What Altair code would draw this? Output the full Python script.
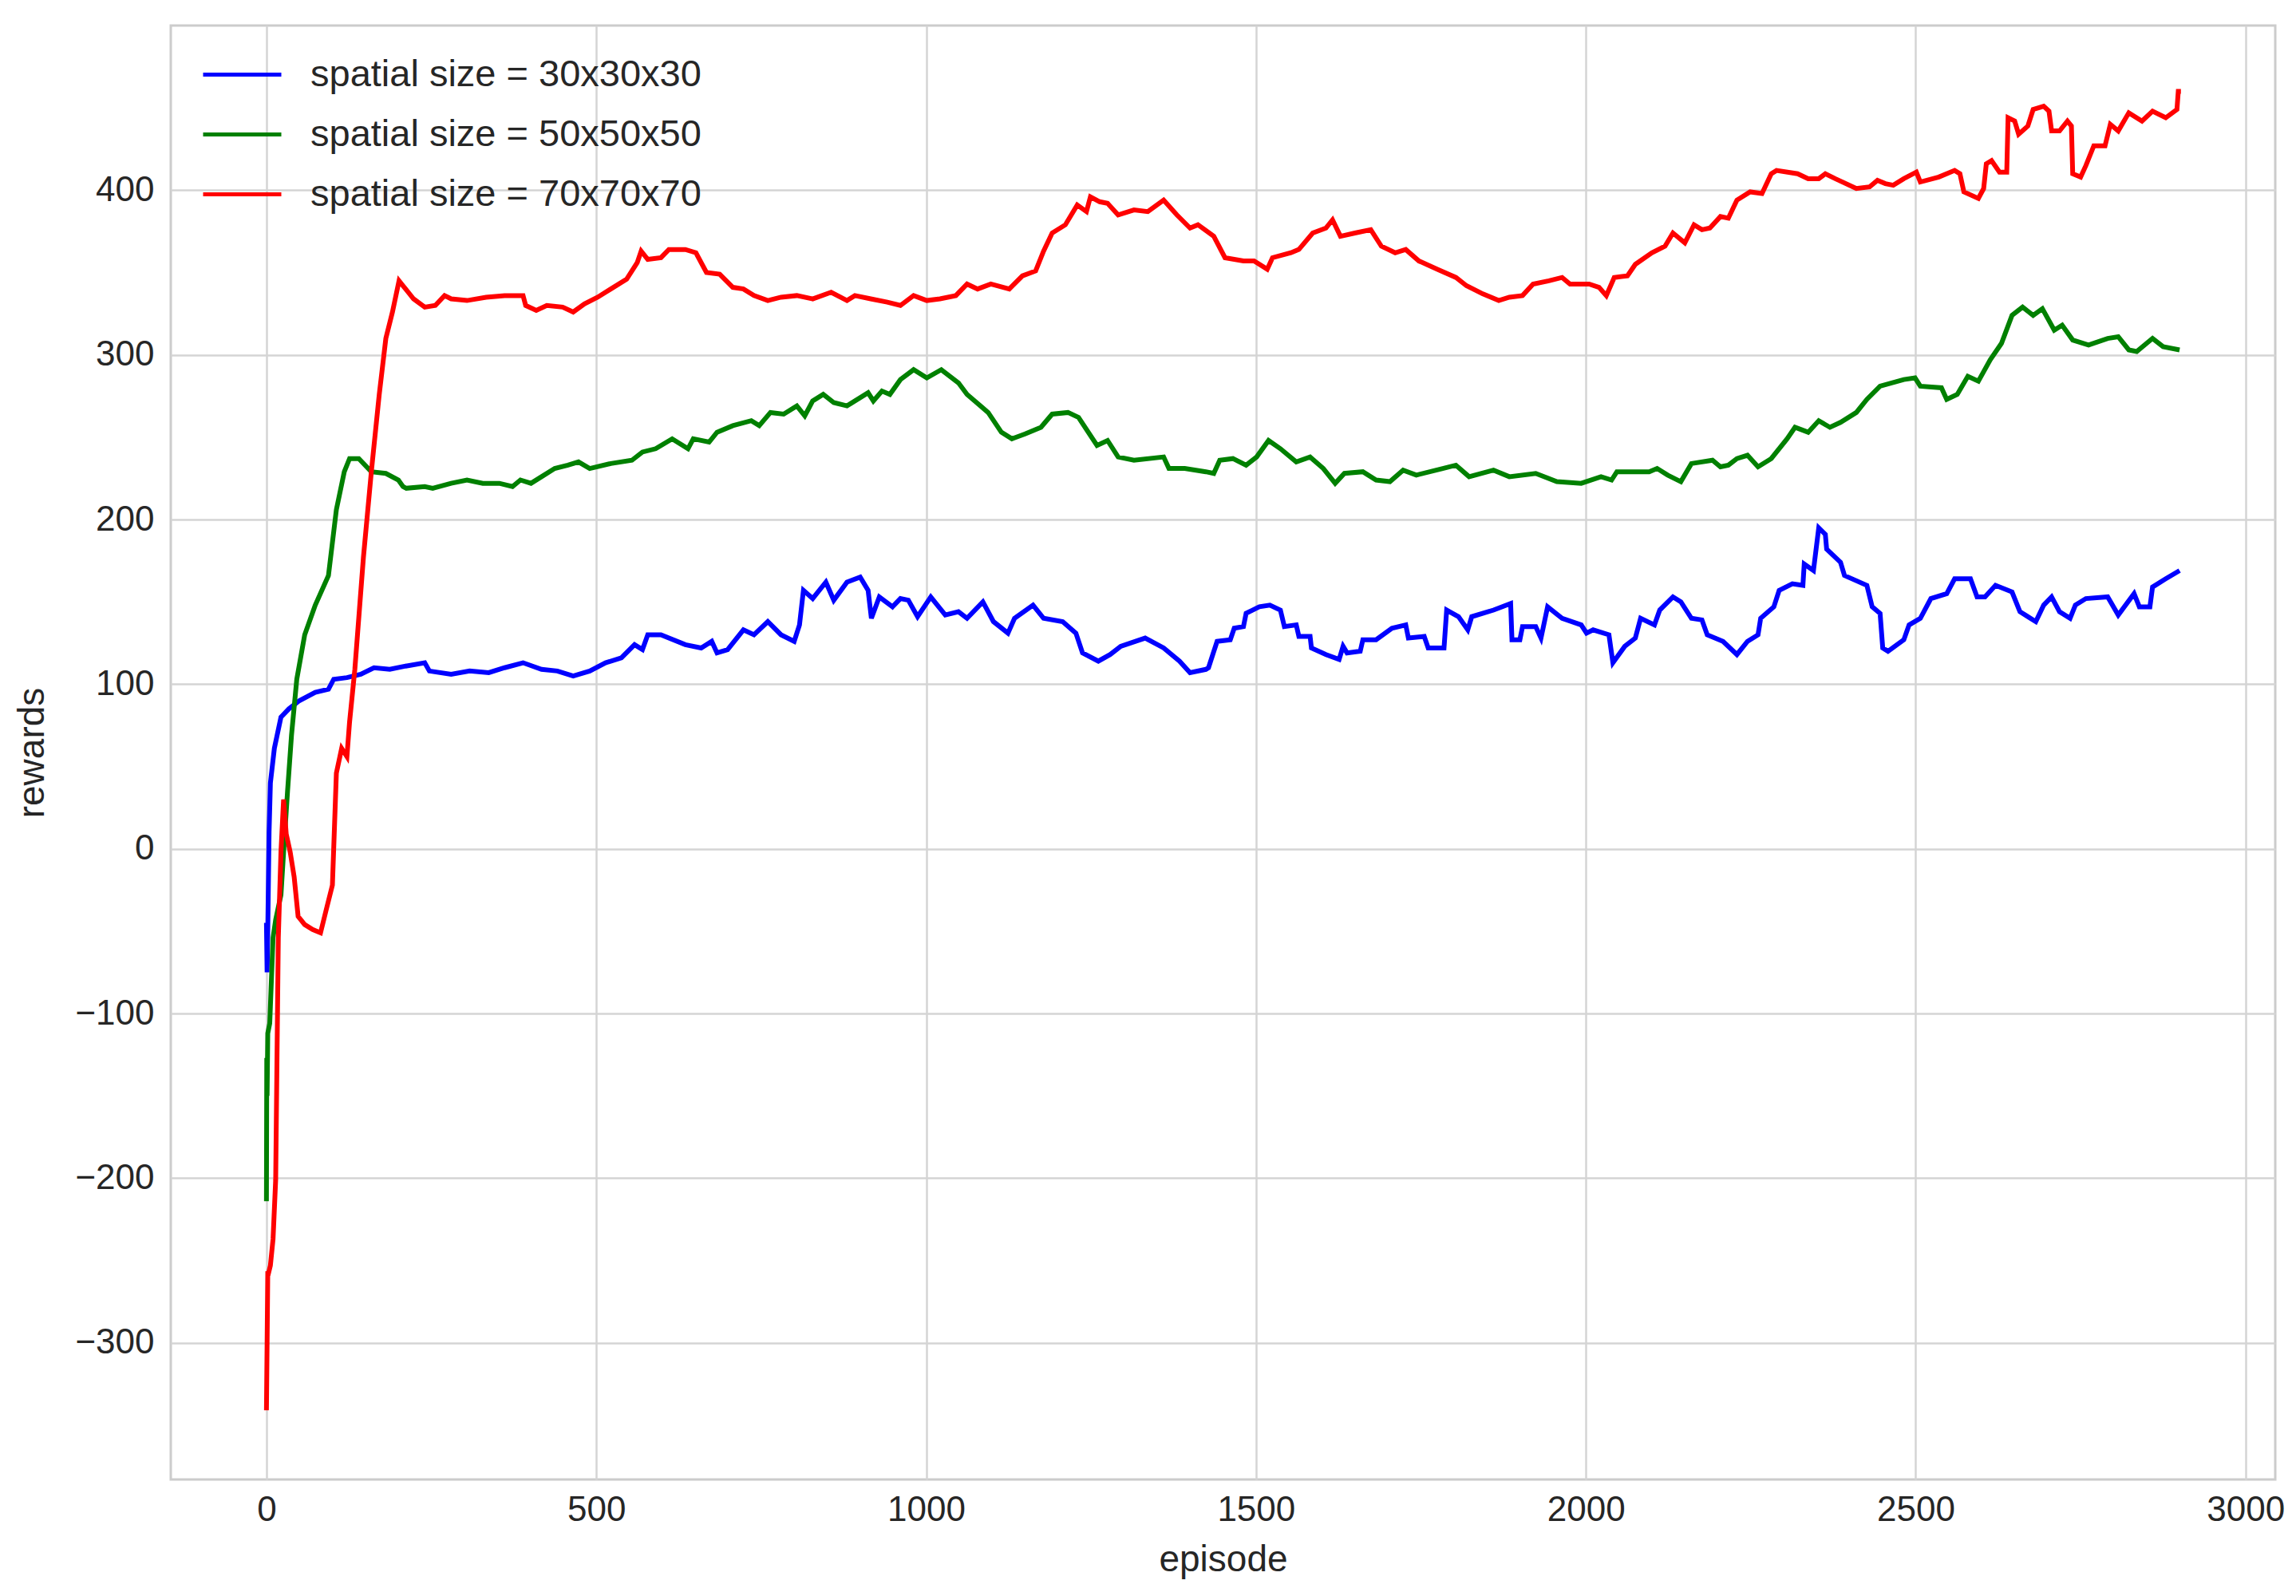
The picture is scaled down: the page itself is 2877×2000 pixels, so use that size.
import altair as alt
import pandas as pd

# ---- data ----
blue_ep = [0, 1, 2, 4, 6, 12, 22, 34, 50, 74, 94, 102, 122, 143, 163, 187, 211, 240, 247, 280, 308, 337, 361, 389, 417, 441, 465, 490, 514, 538, 558, 570, 578, 598, 635, 659, 675, 683, 699, 723, 739, 760, 780, 800, 808, 814, 828, 848, 860, 880, 900, 912, 917, 929, 949, 961, 973, 987, 1007, 1029, 1049, 1062, 1086, 1102, 1124, 1134, 1162, 1178, 1207, 1227, 1237, 1261, 1279, 1295, 1332, 1360, 1384, 1400, 1424, 1428, 1441, 1461, 1467, 1481, 1485, 1505, 1521, 1537, 1543, 1561, 1565, 1582, 1584, 1606, 1626, 1632, 1638, 1658, 1662, 1682, 1706, 1727, 1731, 1755, 1761, 1785, 1789, 1807, 1821, 1827, 1860, 1886, 1888, 1900, 1904, 1924, 1932, 1942, 1964, 1993, 2001, 2011, 2035, 2041, 2059, 2075, 2083, 2104, 2112, 2132, 2144, 2160, 2176, 2184, 2208, 2229, 2245, 2261, 2265, 2285, 2293, 2313, 2329, 2331, 2345, 2353, 2363, 2365, 2386, 2392, 2426, 2434, 2446, 2450, 2458, 2482, 2490, 2507, 2523, 2547, 2559, 2583, 2593, 2605, 2621, 2646, 2658, 2682, 2694, 2706, 2718, 2734, 2742, 2758, 2791, 2807, 2831, 2839, 2855, 2859, 2879, 2900]
blue_val = [-45, -75, -50, 10, 40, 61, 80, 85, 90, 95, 97, 103, 104, 106, 110, 109, 111, 113, 108, 106, 108, 107, 110, 113, 109, 108, 105, 108, 113, 116, 124, 121, 130, 130, 124, 122, 126, 119, 121, 133, 130, 138, 130, 126, 136, 157, 152, 162, 151, 162, 165, 157, 140, 153, 147, 152, 151, 141, 153, 142, 144, 140, 150, 138, 131, 140, 148, 140, 138, 131, 119, 114, 118, 123, 128, 122, 114, 107, 109, 110, 126, 127, 134, 135, 143, 147, 148, 145, 135, 136, 129, 129, 122, 118, 115, 123, 119, 120, 127, 127, 134, 136, 128, 129, 122, 122, 145, 141, 133, 141, 145, 149, 127, 127, 135, 135, 128, 147, 140, 136, 131, 133, 130, 113, 123, 128, 140, 136, 145, 153, 150, 140, 139, 130, 126, 118, 126, 130, 140, 147, 157, 161, 160, 173, 169, 195, 191, 182, 174, 166, 160, 147, 143, 122, 120, 127, 136, 140, 152, 155, 164, 164, 153, 153, 160, 156, 144, 138, 148, 153, 144, 140, 148, 152, 153, 142, 155, 147, 147, 159, 164, 169]

green_ep = [0, 0.5, 1, 2, 5, 10, 14, 22, 26, 32, 38, 46, 58, 74, 94, 106, 118, 126, 140, 159, 181, 200, 207, 212, 240, 252, 280, 304, 328, 353, 373, 385, 401, 417, 437, 457, 473, 490, 522, 554, 570, 590, 615, 639, 647, 671, 683, 707, 735, 747, 764, 784, 804, 816, 828, 844, 860, 880, 912, 920, 933, 945, 961, 981, 1001, 1023, 1049, 1062, 1094, 1114, 1130, 1150, 1174, 1191, 1215, 1231, 1259, 1275, 1291, 1315, 1360, 1368, 1392, 1424, 1436, 1445, 1465, 1485, 1501, 1519, 1537, 1561, 1582, 1602, 1620, 1634, 1662, 1682, 1703, 1723, 1743, 1783, 1803, 1823, 1860, 1884, 1924, 1956, 1993, 2023, 2039, 2047, 2096, 2108, 2124, 2144, 2160, 2192, 2204, 2216, 2229, 2245, 2261, 2281, 2305, 2317, 2337, 2353, 2370, 2386, 2410, 2426, 2446, 2482, 2499, 2507, 2539, 2547, 2563, 2579, 2595, 2613, 2630, 2646, 2662, 2678, 2692, 2710, 2722, 2738, 2762, 2791, 2807, 2823, 2835, 2859, 2875, 2900]
green_val = [-214, -127, -150, -112, -106, -54, -43, -28, -2, 35, 69, 103, 130, 148, 166, 206, 229, 237, 237, 229, 228, 224, 220, 219, 220, 219, 222, 224, 222, 222, 220, 224, 222, 226, 231, 233, 235, 231, 234, 236, 241, 243, 249, 243, 249, 247, 253, 257, 260, 257, 265, 264, 269, 263, 272, 276, 271, 269, 277, 272, 278, 276, 285, 291, 286, 291, 283, 276, 265, 253, 249, 252, 256, 264, 265, 262, 245, 248, 238, 236, 238, 231, 231, 229, 228, 236, 237, 233, 238, 248, 243, 235, 238, 231, 222, 228, 229, 224, 223, 230, 227, 231, 233, 226, 230, 226, 228, 223, 222, 226, 224, 229, 229, 231, 227, 223, 234, 236, 232, 233, 237, 239, 232, 237, 249, 256, 253, 260, 256, 259, 265, 273, 281, 285, 286, 281, 280, 273, 276, 287, 284, 297, 307, 324, 329, 324, 328, 315, 318, 309, 306, 310, 311, 303, 302, 310, 305, 303]

red_ep = [0, 1, 2, 3, 6, 10, 14, 16, 18, 22, 26, 30, 36, 42, 48, 58, 70, 82, 90, 100, 106, 114, 122, 126, 134, 147, 159, 171, 181, 191, 201, 207, 223, 240, 256, 270, 280, 304, 333, 361, 389, 393, 409, 425, 449, 465, 482, 502, 522, 546, 562, 568, 578, 598, 610, 635, 651, 667, 687, 707, 723, 739, 760, 780, 804, 828, 856, 880, 892, 916, 941, 961, 981, 1001, 1021, 1045, 1062, 1078, 1098, 1126, 1146, 1166, 1178, 1191, 1211, 1229, 1243, 1249, 1263, 1275, 1291, 1315, 1336, 1360, 1380, 1400, 1412, 1436, 1453, 1481, 1497, 1517, 1525, 1553, 1565, 1586, 1606, 1616, 1628, 1650, 1674, 1690, 1711, 1727, 1747, 1775, 1803, 1819, 1844, 1868, 1884, 1904, 1920, 1944, 1964, 1976, 2005, 2020, 2031, 2043, 2063, 2075, 2100, 2120, 2132, 2150, 2164, 2176, 2188, 2204, 2216, 2229, 2249, 2267, 2281, 2289, 2321, 2337, 2353, 2363, 2378, 2410, 2430, 2442, 2454, 2466, 2482, 2501, 2507, 2535, 2559, 2567, 2573, 2595, 2603, 2607, 2615, 2627, 2638, 2640, 2650, 2656, 2670, 2678, 2694, 2702, 2706, 2718, 2730, 2736, 2738, 2750, 2758, 2770, 2787, 2795, 2807, 2823, 2843, 2859, 2879, 2896, 2898, 2902]
red_val = [-341, -300, -258, -258, -253, -237, -201, -127, -54, -2, 30, 9, -2, -17, -41, -46, -49, -51, -38, -22, 46, 61, 56, 77, 109, 177, 229, 276, 310, 326, 345, 342, 334, 329, 330, 336, 334, 333, 335, 336, 336, 330, 327, 330, 329, 326, 331, 335, 340, 346, 356, 363, 358, 359, 364, 364, 362, 350, 349, 341, 340, 336, 333, 335, 336, 334, 338, 333, 336, 334, 332, 330, 336, 333, 334, 336, 343, 340, 343, 340, 348, 351, 363, 374, 379, 391, 387, 396, 393, 392, 385, 388, 387, 394, 385, 377, 379, 372, 359, 357, 357, 352, 359, 362, 364, 374, 377, 382, 372, 374, 376, 366, 362, 364, 357, 352, 347, 342, 337, 333, 335, 336, 343, 345, 347, 343, 343, 341, 336, 347, 348, 355, 362, 366, 374, 368, 379, 376, 377, 384, 383, 394, 399, 398, 410, 412, 410, 407, 407, 410, 407, 401, 402, 406, 404, 403, 407, 411, 405, 408, 412, 410, 399, 395, 401, 416, 418, 411, 411, 444, 442, 434, 439, 449, 451, 448, 436, 436, 442, 439, 410, 408, 415, 427, 427, 440, 436, 447, 442, 448, 444, 449, 460, 460]

labels = ["spatial size = 30x30x30", "spatial size = 50x50x50", "spatial size = 70x70x70"]
colors = ["#0000ff", "#008000", "#ff0000"]
x_ticks = [0, 500, 1000, 1500, 2000, 2500, 3000]
y_ticks = [-300, -200, -100, 0, 100, 200, 300, 400]

rows = []
for lab, eps, vals in zip(labels, [blue_ep, green_ep, red_ep], [blue_val, green_val, red_val]):
    for i, (e, v) in enumerate(zip(eps, vals)):
        rows.append({"episode": e, "rewards": v, "series": lab, "idx": i})
df = pd.DataFrame(rows)

FONT = "Liberation Sans"
W, H = 2637, 1822

xscale = alt.Scale(domain=[-145, 3045], nice=False, zero=False)
yscale = alt.Scale(domain=[-383, 500], nice=False, zero=False)
cscale = alt.Scale(domain=labels, range=colors)

xaxis = alt.Axis(values=x_ticks, title="episode", grid=True, domain=False, ticks=False,
                 labelFontSize=44, labelPadding=16, labelColor="#262626", labelFont=FONT,
                 titleFontSize=46, titleFont=FONT, titleColor="#262626", titleFontWeight="normal",
                 titleX=W / 2, titleY=100, titleBaseline="middle",
                 gridColor="#d4d4d4", gridWidth=2.5, format="d")
yaxis = alt.Axis(values=y_ticks, title="rewards", grid=True, domain=False, ticks=False,
                 labelFontSize=44, labelPadding=21, labelColor="#262626", labelFont=FONT,
                 titleFontSize=46, titleFont=FONT, titleColor="#262626", titleFontWeight="normal",
                 titleX=-174, titleY=H / 2, titleAngle=-90, titleBaseline="middle",
                 gridColor="#d4d4d4", gridWidth=2.5, format="d")

legend = alt.Legend(title=None, orient="none", legendX=38, legendY=10,
                    symbolType="stroke", symbolSize=9604, symbolStrokeWidth=5,
                    labelFontSize=47, labelFont=FONT, labelColor="#262626",
                    labelOffset=34, rowPadding=0, padding=0, labelLimit=1000)

layers = []
for i, lab in enumerate(labels):
    enc = dict(
        x=alt.X("episode:Q", scale=xscale, axis=xaxis),
        y=alt.Y("rewards:Q", scale=yscale, axis=yaxis),
        color=alt.Color("series:N", scale=cscale, legend=legend),
        order=alt.Order("idx:Q"),
    )
    layers.append(
        alt.Chart(df).transform_filter(alt.datum.series == lab)
        .mark_line(strokeWidth=6, clip=True)
        .encode(**enc)
    )

chart = alt.layer(*layers).properties(
    width=W, height=H,
    autosize=alt.AutoSizeParams(type="none"),
    padding={"left": 206, "top": 24, "right": 18, "bottom": 130},
    background="white",
).configure_view(stroke="#cccccc", strokeWidth=3)

chart.save("out.html", embed_options={"renderer": "svg", "actions": False})
